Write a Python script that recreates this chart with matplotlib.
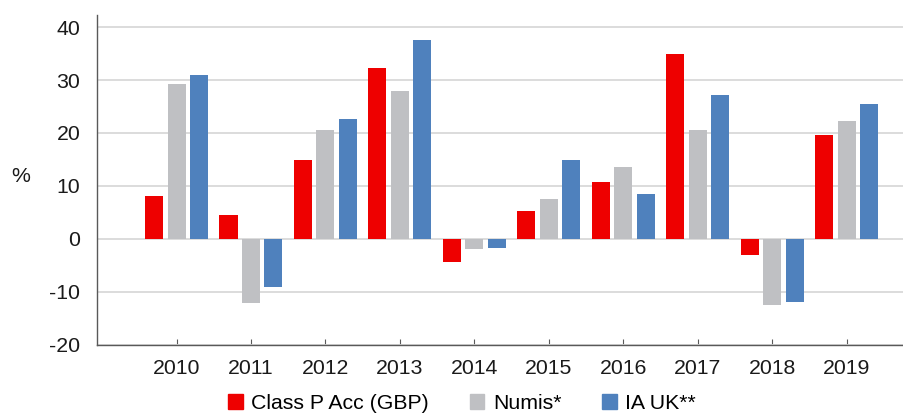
import numpy as np
import matplotlib.pyplot as plt
from matplotlib.patches import Patch

plt.rcParams['font.family'] = ['Liberation Sans', 'DejaVu Sans']
plt.rcParams['axes.unicode_minus'] = False

years = ['2010', '2011', '2012', '2013', '2014', '2015', '2016', '2017', '2018', '2019']
class_p = [8.1, 4.5, 14.9, 32.3, -4.3, 5.3, 10.8, 35.0, -3.0, 19.7]
numis = [29.3, -12.1, 20.6, 28.0, -1.9, 7.6, 13.6, 20.6, -12.5, 22.3]
ia_uk = [31.0, -9.1, 22.7, 37.6, -1.7, 14.9, 8.5, 27.2, -11.9, 25.5]

names = ['Class P Acc (GBP)', 'Numis*', 'IA UK**']
colors = ['#EE0000', '#BFC0C3', '#4F81BD']

fig = plt.figure(figsize=(9.04, 4.16), dpi=100)
ax = fig.add_axes([0.1073, 0.1714, 0.8927, 0.7926])

x = np.arange(len(years))
step = 0.302
width = 0.242
for i, (vals, col) in enumerate(zip([class_p, numis, ia_uk], colors)):
    ax.bar(x + (i - 1) * step, vals, width, color=col, zorder=3)

ax.set_xlim(-1.068, 9.77)
ax.set_ylim(-20, 42.3)
ax.set_yticks(np.arange(-20, 41, 10))
ax.set_xticks(x)
ax.set_xticklabels(years)
ax.yaxis.grid(True, color='#D9D9D9', lw=1.3, zorder=0)

for s in ['top', 'right']:
    ax.spines[s].set_visible(False)
for s in ['left', 'bottom']:
    ax.spines[s].set_color('#595959')
    ax.spines[s].set_linewidth(1.0)
    ax.spines[s].set_zorder(4)

fs = 15.3
ax.tick_params(axis='y', length=0, pad=12, labelsize=fs, colors='#1a1a1a')
ax.tick_params(axis='x', direction='in', length=4, color='#595959', pad=10, labelsize=fs, labelcolor='#1a1a1a')

ax.set_ylabel('%', rotation=0, fontsize=fs, color='#1a1a1a', va='center')
ax.yaxis.set_label_coords(-0.095, 0.51)

handles = [Patch(color=c) for c in colors]
fig.legend(handles, names, loc='center', bbox_to_anchor=(0.511, 0.03), ncol=3, frameon=False,
           fontsize=fs, handlelength=0.7, handleheight=0.7, handletextpad=0.4, columnspacing=1.9,
           borderpad=0.1)

fig.savefig('out.png', dpi=100)
